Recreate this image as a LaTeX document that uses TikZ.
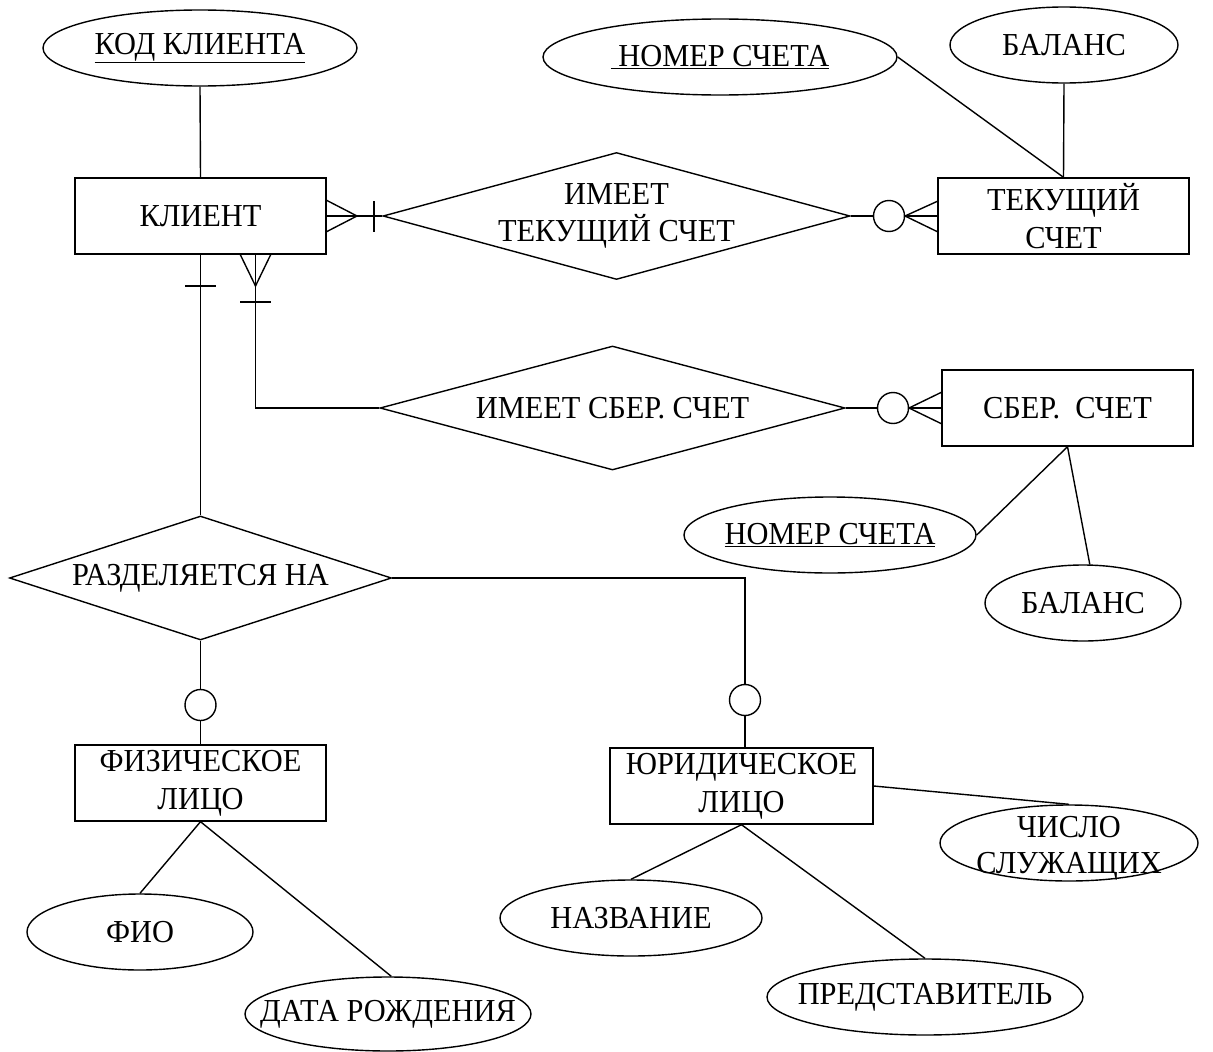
\documentclass[tikz,border=0pt]{standalone}
\usepackage{fontspec}
\setmainfont{Liberation Serif}[FakeStretch=0.95]
\usetikzlibrary{shapes.geometric}
\tikzset{
  base/.style={draw=black, line width=1.4pt, inner sep=0pt},
  ent/.style={base, rectangle, minimum width=251pt, minimum height=76pt, align=center},
  attr/.style={base, ellipse, minimum height=76pt},
  rel/.style={base, diamond},
  opt/.style={base, circle, minimum size=31pt},
  txt/.style={align=center, inner sep=0pt},
  conn/.style={line width=1.4pt},
}
\begin{document}
\begin{tikzpicture}[x=1pt, y=-1pt, font=\fontsize{32}{38}\selectfont]
\useasboundingbox (0,0) rectangle (1213,1052);
\fill[white] (0,0) rectangle (1213,1052);

% entities
\node[ent] (k) at (200.5,216) {КЛИЕНТ};
\node[ent] (t) at (1063.5,216) {ТЕКУЩИЙ\\СЧЕТ};
\node[ent] (s) at (1067.5,408) {СБЕР.\ \ СЧЕТ};
\node[ent] (f) at (200.5,783) {ФИЗИЧЕСКОЕ\\ЛИЦО};
\node[ent, minimum width=263pt] (j) at (741.5,786) {ЮРИДИЧЕСКОЕ\\ЛИЦО};

% relationships
\node[rel, minimum width=467pt, minimum height=127pt, label={[txt]center:{ИМЕЕТ\\[-1pt]ТЕКУЩИЙ СЧЕТ}}] (d1) at (616.5,216) {};
\node[rel, minimum width=465pt, minimum height=124pt, label={[txt]center:{ИМЕЕТ СБЕР. СЧЕТ}}] (d2) at (612.5,408) {};
\node[rel, minimum width=382pt, minimum height=124pt, label={[txt]center:{РАЗДЕЛЯЕТСЯ НА}}] (d3) at (200.5,578) {};

% attributes
\node[attr, minimum width=314pt, label={[txt]center:{\underline{КОД КЛИЕНТА}}}] (kk) at (200,48) {};
\node[attr, minimum width=354pt, label={[txt]center:{\underline{\ НОМЕР СЧЕТА}}}] (n1) at (720,57) {};
\node[attr, minimum width=228pt, label={[txt]center:{БАЛАНС}}] (b1) at (1064,45) {};
\node[attr, minimum width=292pt, label={[txt]center:{\underline{НОМЕР СЧЕТА}}}] (n2) at (830,535) {};
\node[attr, minimum width=196pt, label={[txt]center:{БАЛАНС}}] (b2) at (1083,603) {};
\node[attr, minimum width=226pt, label={[txt]center:{ФИО}}] (fio) at (140,932) {};
\node[attr, minimum width=286pt, minimum height=74pt, label={[txt]center:{ДАТА РОЖДЕНИЯ}}] (dr) at (388,1014) {};
\node[attr, minimum width=262pt, label={[txt]center:{НАЗВАНИЕ}}] (naz) at (631,918) {};
\node[attr, minimum width=316pt, label={[txt]center:{ПРЕДСТАВИТЕЛЬ}}] (pr) at (925,997) {};
\node[attr, minimum width=258pt, label={[txt,yshift=-5pt]center:{ЧИСЛО\\[-2pt]СЛУЖАЩИХ}}] (ch) at (1069,843) {};

% optional circles
\node[opt] (c1) at (889,216) {};
\node[opt] (c2) at (893,408) {};
\node[opt] (c3) at (745,700) {};
\node[opt] (c4) at (200.5,705) {};

\coordinate (kb) at (255.5,254);

% connectors
\draw[conn] (kk.south) -- (k.north);
\draw[conn] (k.east) -- (d1.west);
\draw[conn] (d1.east) -- (c1.west);
\draw[conn] (c1.east) -- (t.west);
\draw[conn] (n1.east) -- (t.north);
\draw[conn] (b1.south) -- (t.north);
\draw[conn] (kb) |- (d2.west);
\draw[conn] (d2.east) -- (c2.west);
\draw[conn] (c2.east) -- (s.west);
\draw[conn] (s.south) -- (n2.east);
\draw[conn] (s.south) -- (b2.80);
\draw[conn] (k.south) -- (d3.north);
\draw[conn] (d3.east) -| (c3.north);
\draw[conn] (c3.south) -- (c3.south |- j.north);
\draw[conn] (d3.south) -- (c4.north);
\draw[conn] (c4.south) -- (f.north);
\draw[conn] (f.south) -- (fio.north);
\draw[conn] (f.south) -- (dr.85);
\draw[conn] (j.south) -- (naz.north);
\draw[conn] (j.south) -- (pr.north);
\draw[conn] (j.east) -- (ch.north);

% cardinality marks
\draw[conn] (326,200) -- (357,216) -- (326,232);
\draw[conn] (374,201) -- (374,232);
\draw[conn] (938,201) -- (905,216) -- (938,232);
\draw[conn] (942,392) -- (909,408) -- (942,424);
\draw[conn] (240,254) -- (255.5,286) -- (271,254);
\draw[conn] (240,302) -- (271,302);
\draw[conn] (185,286) -- (216,286);
\end{tikzpicture}
\end{document}
